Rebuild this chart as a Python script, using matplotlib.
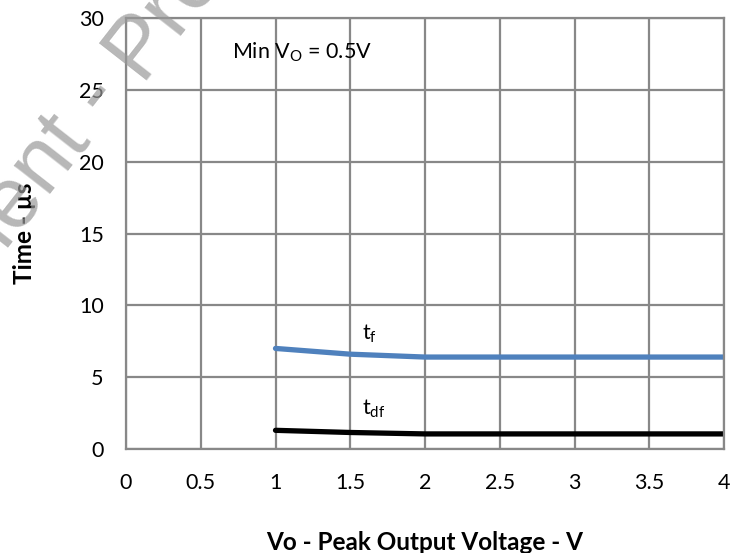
import matplotlib
matplotlib.use("Agg")
import matplotlib.pyplot as plt

# Data
vo = [1.0, 1.5, 2.0, 2.5, 3.0, 3.5, 4.0]
t_f = [7.0, 6.6, 6.4, 6.4, 6.4, 6.4, 6.4]
t_df = [1.3, 1.15, 1.05, 1.05, 1.05, 1.05, 1.05]
x_ticks = [0, 0.5, 1, 1.5, 2, 2.5, 3, 3.5, 4]
x_tick_labels = ["0", "0.5", "1", "1.5", "2", "2.5", "3", "3.5", "4"]
y_ticks = [0, 5, 10, 15, 20, 25, 30]

plt.rcParams['font.family'] = ['Lato', 'DejaVu Sans']

fig = plt.figure(figsize=(7.38, 5.53), dpi=100)
ax = fig.add_axes([126/738, 1-449/553, (724-126)/738, (449-18)/553])

grid_c = "#888888"
ax.set_xlim(0, 4)
ax.set_ylim(0, 30)
ax.set_xticks(x_ticks)
ax.set_xticklabels(x_tick_labels)
ax.set_yticks(y_ticks)
ax.grid(True, color=grid_c, linewidth=1.6)
ax.set_axisbelow(True)
for s in ax.spines.values():
    s.set_color(grid_c)
    s.set_linewidth(1.6)
ax.tick_params(length=0, labelsize=15.5, pad=16)
ax.tick_params(axis='x', pad=17)

ax.plot(vo, t_f, color="#4F81BD", linewidth=3.8, solid_capstyle='round')
ax.plot(vo, t_df, color="black", linewidth=3.8, solid_capstyle='round')

ax.text(1.58, 7.6, r"t$_\mathregular{f}$", fontsize=15.5)
ax.text(1.58, 2.4, r"t$_\mathregular{df}$", fontsize=15.5)
ax.text(0.71, 27.2, r"Min V$_\mathregular{O}$ = 0.5V", fontsize=15.5)

ax.set_xlabel("Vo - Peak Output Voltage - V", fontsize=17.5, fontweight='bold', labelpad=28)
ax.set_ylabel("Time - µs", fontsize=17.5, fontweight='bold', labelpad=31)

# Watermark
wm_kw = dict(fontsize=63, color="#999999", alpha=0.7, rotation=52,
             rotation_mode='anchor', va='baseline', family='Liberation Sans',
             transform=fig.transFigure, zorder=10)
fig.text(140/738, 1-80/553, "Document - ", ha='right', **wm_kw)
fig.text(140/738, 1-80/553, "Preliminary", ha='left', **wm_kw)

fig.savefig("out.png", dpi=100)
